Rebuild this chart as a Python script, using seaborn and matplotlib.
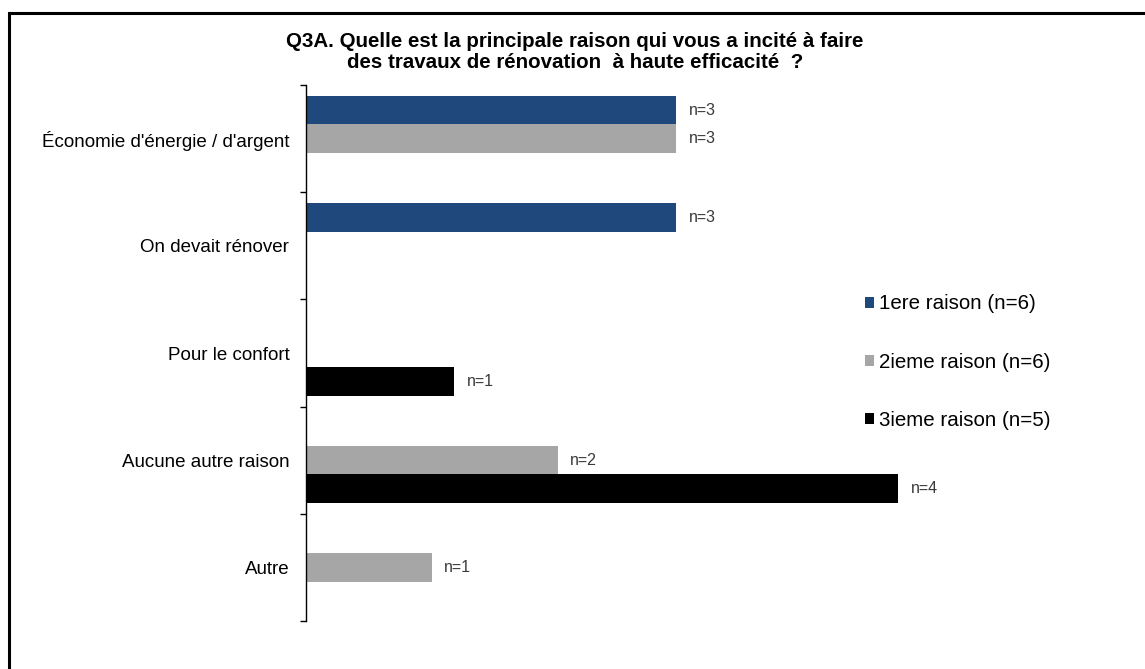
import pandas as pd
import numpy as np
import matplotlib as mpl
from matplotlib import pyplot as plt
import matplotlib.patches as mpatches
import seaborn as sns

# data: share of respondents (%) and count n per bar
categories = ["Économie d'énergie / d'argent", "On devait rénover", "Pour le confort",
              "Aucune autre raison", "Autre"]
series = ["1ere raison (n=6)", "2ieme raison (n=6)", "3ieme raison (n=5)"]
pct_1ere = [50, 50, None, None, None]
pct_2ieme = [50, None, None, 34, 17]
pct_3ieme = [None, None, 20, 80, None]
n_1ere = [3, 3, None, None, None]
n_2ieme = [3, None, None, 2, 1]
n_3ieme = [None, None, 1, 4, None]
colors = ["#1F497D", "#A6A6A6", "#000000"]
title = "Q3A. Quelle est la principale raison qui vous a incité à faire\ndes travaux de rénovation  à haute efficacité  ?"

rows = []
for s, pcts, ns in zip(series, [pct_1ere, pct_2ieme, pct_3ieme], [n_1ere, n_2ieme, n_3ieme]):
    for c, p, n in zip(categories, pcts, ns):
        if p is not None:
            rows.append({"raison": c, "serie": s, "pct": p, "n": n})
df = pd.DataFrame(rows)

sns.set_style("white")
plt.rcParams['font.family'] = ['Liberation Sans', 'DejaVu Sans']
plt.rcParams['text.color'] = 'black'

fig = plt.figure(figsize=(11.45, 6.69), dpi=100)
ax = fig.add_axes([306 / 1145, 1 - 621 / 669, (1046 - 306) / 1145, (621 - 85) / 669])

sns.barplot(data=df, y="raison", x="pct", hue="serie", order=categories, hue_order=series,
            palette=colors, orient="h", width=0.8, saturation=1, linewidth=0,
            errorbar=None, ax=ax)

# n= labels next to each bar
for s, cont in zip(series, ax.containers):
    sub = df[df["serie"] == s].set_index("raison").reindex(categories).dropna()
    ax.bar_label(cont, labels=["n=%d" % v for v in sub["n"]], padding=9,
                 fontsize=11.5, color="#3a3a3a")

ax.set_xlim(0, 100)
ax.set_ylim(4.5, -0.5)
ax.set_xlabel("")
ax.set_ylabel("")
ax.set_xticks([])
ax.tick_params(axis="y", which="major", length=0, pad=12, labelsize=13.5, labelcolor="black")
ax.set_yticks(np.arange(-0.5, 5, 1), minor=True)
ax.tick_params(axis="y", which="minor", length=4, width=1, direction="out", color="black", left=True)
for side in ["top", "right", "bottom"]:
    ax.spines[side].set_visible(False)
ax.spines["left"].set_color("black")
ax.spines["left"].set_linewidth(1)

sns.move_legend(ax, "center left", bbox_to_anchor=(865 / 1145, 1 - 362 / 669),
                bbox_transform=fig.transFigure, title=None, frameon=False,
                fontsize=14.8, handlelength=0.45, handleheight=0.45, handletextpad=0.25,
                labelspacing=1.9, borderpad=0, borderaxespad=0, labelcolor="black")

fig.text(0.502, 1 - 52 / 669, title, ha="center", va="center", fontsize=14.8,
         fontweight="bold", linespacing=1.12, color="black")

# outer frame of the slide, running off the right and bottom edges
fig.patches.append(mpatches.Rectangle((8.5 / 1145, -0.1), 1.2, 1 - 13.5 / 669 + 0.1,
                                      transform=fig.transFigure, fill=False,
                                      edgecolor="black", linewidth=2.2))

fig.savefig("out.png", dpi=100)
